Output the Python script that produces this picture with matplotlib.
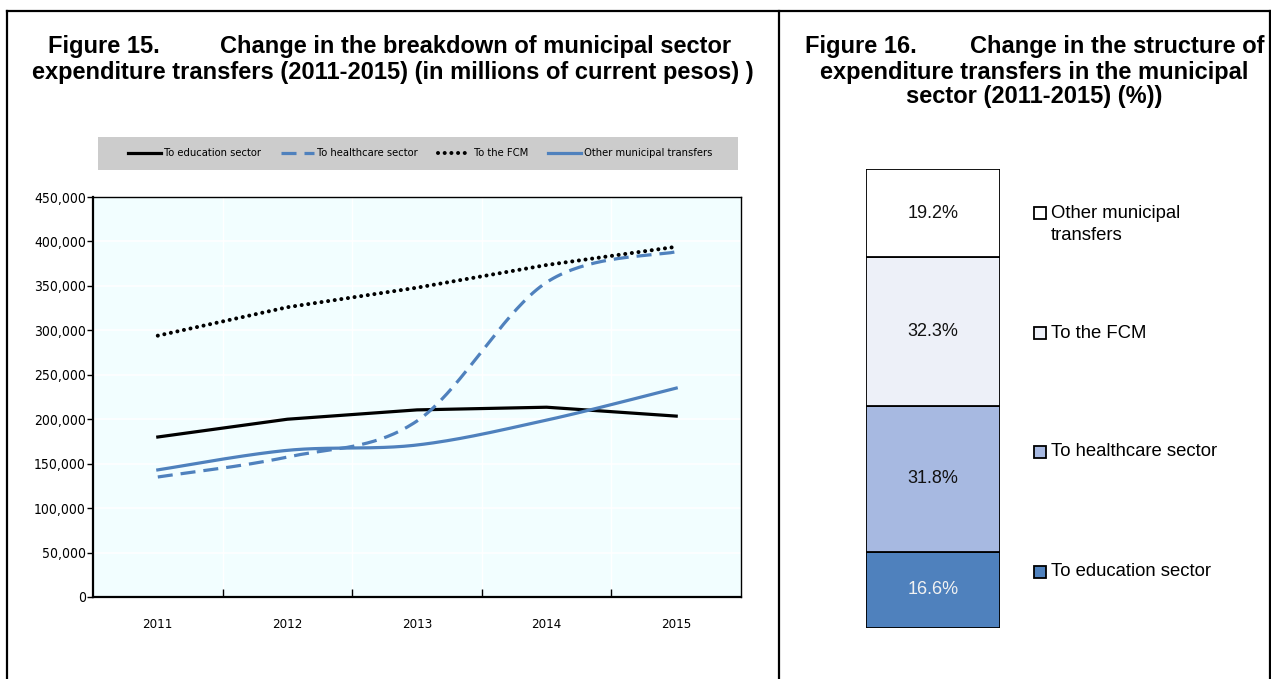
import matplotlib
matplotlib.use("Agg")
import matplotlib.pyplot as plt
from matplotlib import font_manager as fm
from matplotlib.lines import Line2D
from matplotlib.patches import Rectangle
from matplotlib.ticker import FuncFormatter, FixedLocator
import numpy as np

# --- data ---
years = ["2011", "2012", "2013", "2014", "2015"]
education = [180000, 200000, 210500, 213500, 203500]
healthcare = [135000, 157500, 198000, 354000, 388500]
fcm = [294000, 326000, 348000, 373500, 394000]
other = [143000, 165000, 171000, 199000, 235000]

share_labels = ["To education sector", "To healthcare sector", "To the FCM", "Other municipal\ntransfers"]
shares_2015 = [16.6, 31.8, 32.3, 19.2]
share_colors = ["#4F81BD", "#A7B9E1", "#EDF0F8", "#FFFFFF"]

W, H = 1271, 679
BLUE = "#4F81BD"
ARIAL = ["Liberation Sans", "DejaVu Sans"]

# pick a narrow face for the axis texts
_fonts = fm.fontManager.ttflist
if any(f.name == "Liberation Sans Narrow" for f in _fonts):
    NARROW = dict(family="Liberation Sans Narrow")
elif any(f.name == "DejaVu Sans" and f.stretch == "condensed" for f in _fonts):
    NARROW = dict(family="DejaVu Sans", stretch="condensed")
else:
    NARROW = dict(family="Liberation Sans")


def fx(px):
    return px / W


def fy(py):
    return 1 - py / H


def smooth(xs, ys, n=40):
    # cubic bezier through the points, excel style (tension 1/6)
    pts = np.column_stack([np.asarray(xs, float), np.asarray(ys, float)])
    out = []
    for i in range(len(pts) - 1):
        p0 = pts[i - 1] if i > 0 else pts[i]
        p1 = pts[i]
        p2 = pts[i + 1]
        p3 = pts[i + 2] if i + 2 < len(pts) else pts[i + 1]
        c1 = p1 + (p2 - p0) / 6
        c2 = p2 - (p3 - p1) / 6
        t = np.linspace(0, 1, n)[:, None]
        seg = (1 - t) ** 3 * p1 + 3 * (1 - t) ** 2 * t * c1 + 3 * (1 - t) * t ** 2 * c2 + t ** 3 * p2
        out.append(seg if i == 0 else seg[1:])
    out = np.vstack(out)
    return out[:, 0], out[:, 1]


fig = plt.figure(figsize=(W / 100, H / 100), dpi=100)

# frame lines round the two panels
for xs, ys in [((7, 1270), (11, 11)), ((7, 7), (11, 679)), ((779, 779), (11, 679)), ((1270, 1270), (11, 679))]:
    fig.add_artist(Line2D([fx(x) for x in xs], [fy(y) for y in ys], color="black", lw=1.6))

# titles
tkw = dict(fontsize=17, fontweight="bold", family=ARIAL, va="center")
fig.text(fx(48), fy(47), "Figure 15.", ha="left", **tkw)
fig.text(fx(731), fy(47), "Change in the breakdown of municipal sector", ha="right", **tkw)
fig.text(fx(393), fy(72), "expenditure transfers (2011-2015) (in millions of current pesos) )", ha="center", **tkw)
fig.text(fx(805), fy(47), "Figure 16.", ha="left", **tkw)
fig.text(fx(1265), fy(47), "Change in the structure of", ha="right", **tkw)
fig.text(fx(1034), fy(72), "expenditure transfers in the municipal", ha="center", **tkw)
fig.text(fx(1034), fy(97), "sector (2011-2015) (%))", ha="center", **tkw)

# grey band behind the series legend
fig.add_artist(Rectangle((fx(98), fy(170)), fx(738 - 98), (170 - 137) / H, transform=fig.transFigure,
                         facecolor="#CCCCCC", edgecolor="none", zorder=-1))

# --- line chart ---
ax = fig.add_axes([fx(93), fy(597), fx(741 - 93), (597 - 197) / H])
ax.set_facecolor("#F2FEFF")
x = np.arange(len(years))

ax.plot(x, education, color="black", lw=2.3, solid_joinstyle="round", label="To education sector", zorder=3)
sx, sy = smooth(x, healthcare)
ax.plot(sx, sy, color=BLUE, lw=2.3, linestyle=(0, (4.7, 2.5)), label="To healthcare sector", zorder=3)
ax.plot(x, fcm, color="black", lw=2.9, linestyle=(0, (0.01, 1.65)), dash_capstyle="round",
        label="To the FCM", zorder=3)
sx, sy = smooth(x, other)
ax.plot(sx, sy, color=BLUE, lw=2.3, label="Other municipal transfers", zorder=3)

ax.set_xlim(-0.5, len(years) - 0.5)
ax.set_ylim(0, 450000)
ax.set_yticks(np.arange(0, 450001, 50000))
ax.yaxis.set_major_formatter(FuncFormatter(lambda v, p: f"{int(v):,}"))
ax.set_xticks(x)
ax.set_xticklabels(years)
ax.xaxis.set_minor_locator(FixedLocator(np.arange(0.5, len(years) - 1, 1)))
ax.tick_params(axis="x", which="major", length=0, pad=15)
ax.tick_params(axis="x", which="minor", direction="in", length=6, width=1)
ax.tick_params(axis="y", direction="out", length=4, width=1, pad=1)
for lab in ax.get_xticklabels():
    lab.set_fontproperties(fm.FontProperties(size=9.5, **NARROW))
for lab in ax.get_yticklabels():
    lab.set_fontproperties(fm.FontProperties(size=10, **NARROW))
ax.grid(axis="y", color="white", lw=1.2, zorder=1)
ax.grid(axis="x", which="minor", color="white", lw=1.0, zorder=1)
for side, sp in ax.spines.items():
    sp.set_color("black")
    sp.set_linewidth(1.6 if side in ("left", "bottom") else 1.0)

ax.legend(loc="center", bbox_to_anchor=(fx(420), fy(153.5)), bbox_transform=fig.transFigure,
          ncol=4, frameon=False, handlelength=3.0, handletextpad=0.25, columnspacing=1.8,
          borderaxespad=0, borderpad=0, prop=fm.FontProperties(size=8, **NARROW))

# --- stacked share bar ---
bx = fig.add_axes([fx(866), fy(628), fx(1000 - 866), (628 - 169) / H])
bottom = 0
for val, col in zip(shares_2015, share_colors):
    bx.bar(0, val, bottom=bottom, width=1, color=col, edgecolor="black", linewidth=1.3)
    bx.text(0, bottom + val / 2, f"{val:.1f}%", ha="center", va="center", fontsize=13,
            family=ARIAL, color="#F2F2F2" if col == BLUE else "#111111")
    bottom += val
bx.set_xlim(-0.5, 0.5)
bx.set_ylim(0, bottom)
bx.axis("off")

# legend for the share bar, one square per category
legend_y = [572, 452, 333, 213]
for lab, col, ly in zip(share_labels, share_colors, legend_y):
    fig.add_artist(Rectangle((fx(1034), fy(ly) - 6 / H), 12 / W, 12 / H, transform=fig.transFigure,
                             facecolor=col, edgecolor="black", lw=1.3))
    for k, line in enumerate(lab.split("\n")):
        fig.text(fx(1051), fy(ly + 23 * k), line, ha="left", va="center", fontsize=13.3, family=ARIAL)

fig.savefig("out.png", dpi=100, facecolor="white")
